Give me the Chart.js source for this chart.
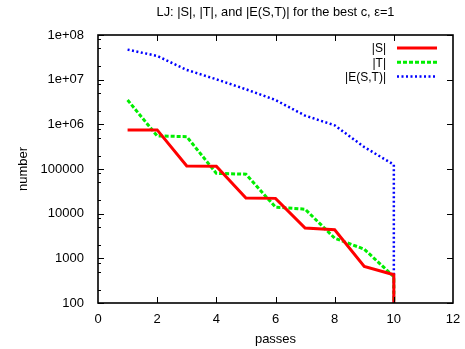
<!DOCTYPE html>
<html>
<head>
<meta charset="utf-8">
<script src="https://cdn.jsdelivr.net/npm/chart.js@4"></script>
<style>
html, body { margin: 0; padding: 0; background: #fff; }
#wrap { width: 465px; height: 349px; }
</style>
</head>
<body>
<div id="wrap"><canvas id="chart" width="465" height="349"></canvas></div>
<script>
// values; last point at pass 10 drops below the axis
var passes = [1, 2, 3, 4, 5, 6, 7, 8, 9, 10, 10];
var sizeS = [750000, 750000, 117000, 115000, 22500, 22000, 4750, 4350, 660, 430, 1];
var sizeT = [3500000, 550000, 530000, 80000, 76500, 14000, 12600, 2830, 1600, 390, 1];
var sizeE = [47000000, 34000000, 16500000, 10200000, 6100000, 3500000, 1570000, 950000, 310000, 125000, 1];

var xTickValues = [0, 2, 4, 6, 8, 10, 12];
var yTickValues = [100, 1000, 10000, 100000, 1000000, 10000000, 100000000];
var yTickLabels = ['100', '1000', '10000', '100000', '1e+06', '1e+07', '1e+08'];

var TITLE = 'LJ: |S|, |T|, and |E(S,T)| for the best c, \u03b5=1';
var FONT = 'Liberation Sans, Arial, Helvetica, sans-serif';

function points(values) {
    return values.map(function(v, i) { return { x: passes[i], y: v }; });
}

function series(label, values, color, dash, width) {
    return {
        label: label,
        data: points(values),
        borderColor: color,
        backgroundColor: color,
        borderWidth: width,
        borderDash: dash,
        pointRadius: 0,
        tension: 0,
        fill: false
    };
}

// gnuplot style box with inward ticks
var framePlugin = {
    id: 'frame',
    afterDatasetsDraw: function(chart) {
        var ctx = chart.ctx, a = chart.chartArea;
        var xs = chart.scales.x, ys = chart.scales.y;
        ctx.save();
        ctx.strokeStyle = '#000';
        ctx.lineWidth = 1.6;
        ctx.strokeRect(Math.round(a.left), Math.round(a.top),
            Math.round(a.right) - Math.round(a.left), Math.round(a.bottom) - Math.round(a.top));
        ctx.lineWidth = 1;
        ctx.beginPath();
        xTickValues.forEach(function(v) {
            if (v <= xs.min || v >= xs.max) return;
            var px = Math.round(xs.getPixelForValue(v)) + 0.5;
            ctx.moveTo(px, a.bottom); ctx.lineTo(px, a.bottom - 6);
            ctx.moveTo(px, a.top); ctx.lineTo(px, a.top + 6);
        });
        yTickValues.forEach(function(v) {
            var py = Math.round(ys.getPixelForValue(v)) + 0.5;
            ctx.moveTo(a.left, py); ctx.lineTo(a.left + 6, py);
            ctx.moveTo(a.right, py); ctx.lineTo(a.right - 6, py);
            if (v < ys.max) {
                [2, 5, 8].forEach(function(m) {
                    var my = Math.round(ys.getPixelForValue(v * m)) + 0.5;
                    ctx.moveTo(a.left, my); ctx.lineTo(a.left + 3, my);
                });
            }
        });
        ctx.stroke();

        // title centred over the plot box
        ctx.fillStyle = '#000';
        ctx.font = '12.8px ' + FONT;
        ctx.textAlign = 'center';
        ctx.textBaseline = 'middle';
        ctx.fillText(TITLE, (a.left + a.right) / 2, 12);
        ctx.restore();
    }
};

// key in the top right corner, text right-aligned and sample line after it
var keyPlugin = {
    id: 'key',
    afterDatasetsDraw: function(chart) {
        var ctx = chart.ctx, a = chart.chartArea;
        ctx.save();
        ctx.font = '12px ' + FONT;
        ctx.textAlign = 'right';
        ctx.textBaseline = 'middle';
        chart.data.datasets.forEach(function(ds, i) {
            var y = a.top + 13 + i * 14.3;
            ctx.fillStyle = '#000';
            ctx.fillText(ds.label, a.right - 67, y + 1);
            ctx.strokeStyle = ds.borderColor;
            ctx.lineWidth = ds.borderWidth;
            ctx.setLineDash(ds.borderDash);
            ctx.beginPath();
            ctx.moveTo(a.right - 56, y);
            ctx.lineTo(a.right - 16, y);
            ctx.stroke();
        });
        ctx.restore();
    }
};

new Chart(document.getElementById('chart'), {
    type: 'line',
    data: {
        datasets: [
            series('|S|', sizeS, '#ff0000', [], 3),
            series('|T|', sizeT, '#00ee00', [4, 2], 3),
            series('|E(S,T)|', sizeE, '#0000ff', [2, 2.5], 2.5)
        ]
    },
    options: {
        responsive: false,
        animation: false,
        devicePixelRatio: 1,
        layout: { padding: { left: 0, right: 12, top: 35, bottom: 0 } },
        plugins: {
            legend: { display: false },
            tooltip: { enabled: false },
            title: { display: false }
        },
        scales: {
            x: {
                type: 'linear',
                min: 0,
                max: 12,
                grid: { display: false, drawTicks: false },
                border: { display: false },
                afterBuildTicks: function(s) {
                    s.ticks = xTickValues.map(function(v) { return { value: v }; });
                },
                afterFit: function(s) {
                    s.height = 46;
                    // the end labels may hang over the box edges, as in gnuplot
                    s.paddingLeft = 0;
                    s.paddingRight = 0;
                },
                ticks: {
                    color: '#000',
                    font: { family: FONT, size: 13 },
                    padding: 9,
                    maxRotation: 0,
                    autoSkip: false
                },
                title: {
                    display: true,
                    text: 'passes',
                    color: '#000',
                    font: { family: FONT, size: 13 },
                    padding: { top: 0, bottom: 2 }
                }
            },
            y: {
                type: 'logarithmic',
                min: 100,
                max: 100000000,
                grid: { display: false, drawTicks: false },
                border: { display: false },
                afterBuildTicks: function(s) {
                    s.ticks = yTickValues.map(function(v) { return { value: v }; });
                },
                afterFit: function(s) { s.width = 98; },
                ticks: {
                    color: '#000',
                    font: { family: FONT, size: 13 },
                    padding: 14,
                    autoSkip: false,
                    callback: function(v) {
                        var i = yTickValues.indexOf(v);
                        return i >= 0 ? yTickLabels[i] : '';
                    }
                },
                title: {
                    display: true,
                    text: 'number',
                    color: '#000',
                    font: { family: FONT, size: 13 },
                    padding: { top: 16, bottom: 0 }
                }
            }
        }
    },
    plugins: [framePlugin, keyPlugin]
});
</script>
</body>
</html>
